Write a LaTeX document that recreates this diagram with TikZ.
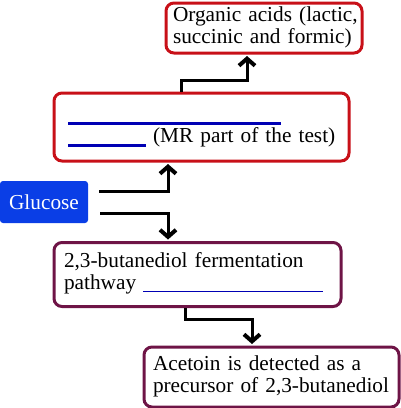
\documentclass[tikz,border=0pt]{standalone}
\usepackage{fontspec}
\setmainfont{Liberation Serif}
\usetikzlibrary{arrows.meta,calc}
\definecolor{boxred}{RGB}{200,16,24}
\definecolor{boxmaroon}{RGB}{110,20,70}
\definecolor{glublue}{RGB}{10,62,230}
\definecolor{blankblue}{RGB}{0,0,180}
\newcommand{\blankline}[2]{\textcolor{blankblue}{\rule[-#2]{#1}{3pt}}}
\tikzset{
  txt/.style={font=\fontsize{21.3}{22}\selectfont},
  redbox/.style={txt, draw=boxred, line width=3pt, rounded corners=8pt, align=left, inner ysep=0pt},
  marbox/.style={txt, draw=boxmaroon, line width=3pt, rounded corners=8pt, align=left, inner ysep=0pt},
  glubox/.style={txt, fill=glublue, text=white, rounded corners=3pt, minimum width=88pt, minimum height=42pt, inner sep=0pt},
  arr/.style={line width=3pt, -{Straight Barb[length=7pt,width=16pt,line width=4pt]}, shorten >=1.5pt},
}
\begin{document}
\begin{tikzpicture}[x=1pt,y=-1pt]
\useasboundingbox (0,0) rectangle (400,408);
\node[redbox, inner xsep=7pt, text width=182pt, minimum height=50pt] (org) at (264,28)
  {\strut\mbox{Organic acids (lactic,}\\\mbox{succinic and formic)}\strut};
\node[redbox, inner xsep=14pt, text width=267pt, minimum height=68pt] (mr) at (201.5,127)
  {\strut\blankline{213pt}{4.5pt}\\\mbox{\blankline{78pt}{4.5pt} (MR part of the test)}\strut};
\node[glubox] (glu) at (44,202) {Glucose};
\node[marbox, inner xsep=10pt, text width=267pt, minimum height=64pt] (bn) at (197.5,274.5)
  {\strut\mbox{2,3-butanediol fermentation}\\\mbox{pathway \textcolor{blankblue}{\rule[-2.5pt]{180pt}{1.2pt}}}\strut};
\node[marbox, inner xsep=9pt, text width=237pt, minimum height=60pt] (ac) at (271.5,377)
  {\strut\mbox{Acetoin is detected as a}\\\mbox{precursor of 2,3-butanediol}\strut};
\coordinate (x1) at (181,0);
\coordinate (x2) at (247,0);
\coordinate (x3) at (168,0);
\coordinate (x4) at (185,0);
\coordinate (x5) at (252,0);
\draw[arr] (mr.north -| x1) -- ++(0,-11) -| (org.south -| x2);
\draw[arr] ($(glu.east)+(11,-11)$) -| (mr.south -| x3);
\draw[arr] ($(glu.east)+(12,11)$) -| (bn.north -| x3);
\draw[arr] (bn.south -| x4) -- ++(0,11) -| (ac.north -| x5);
\end{tikzpicture}
\end{document}
